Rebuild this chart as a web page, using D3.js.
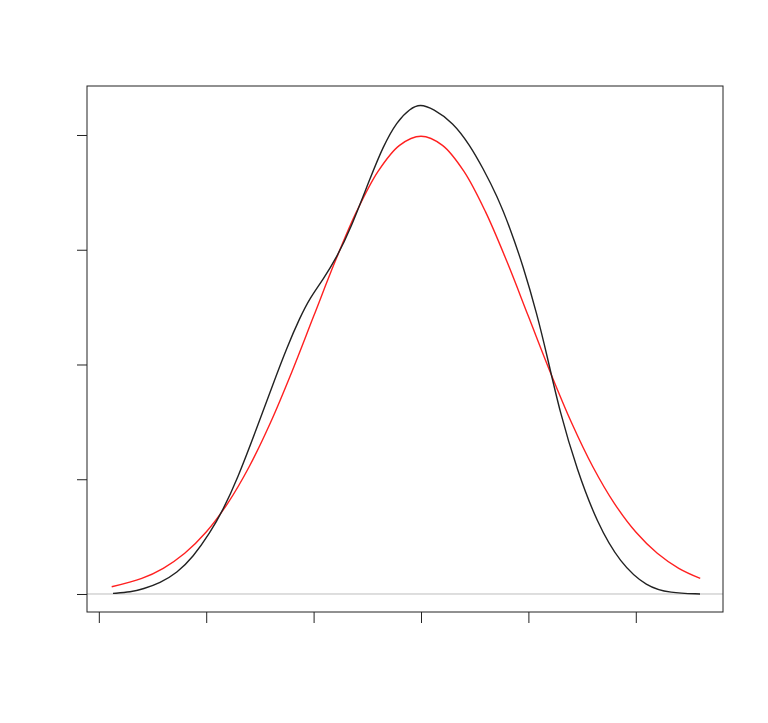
<!DOCTYPE html>
<html>
<head>
<meta charset="utf-8">
<script src="https://cdn.jsdelivr.net/npm/d3@7"></script>
<style>
  body { margin: 0; background: #fff; }
  svg { display: block; }
</style>
</head>
<body>
<div id="chart"></div>
<script>
// kernel density (black)
var densX = [-2.868, -2.700, -2.588, -2.430, -2.272, -2.123, -1.965, -1.844, -1.713, -1.527,
             -1.378, -1.248, -1.127, -1.034, -0.912, -0.782, -0.661, -0.475, -0.354, -0.223,
             -0.102, -0.009, 0.112, 0.298, 0.456, 0.577, 0.708, 0.829, 0.950, 1.080,
             1.173, 1.294, 1.453, 1.639, 1.853, 2.104, 2.318, 2.598];
var densY = [0.0005, 0.0017, 0.0044, 0.0096, 0.0183, 0.0322, 0.0531, 0.0732, 0.0993, 0.145,
             0.183, 0.215, 0.241, 0.258, 0.274, 0.294, 0.317, 0.362, 0.390, 0.412,
             0.423, 0.427, 0.423, 0.411, 0.391, 0.371, 0.347, 0.319, 0.286, 0.244,
             0.208, 0.158, 0.108, 0.062, 0.027, 0.006, 0.001, 0.000];

// normal curve (red)
var normX = [-2.88, -2.6, -2.4, -2.2, -2.0, -1.8, -1.6, -1.4, -1.2, -1.0, -0.8, -0.6, -0.4, -0.2,
             0, 0.2, 0.4, 0.6, 0.8, 1.0, 1.2, 1.4, 1.6, 1.8, 2.0, 2.2, 2.4, 2.6];
var normY = [0.0063, 0.0136, 0.0224, 0.0355, 0.0540, 0.0790, 0.1109, 0.1497, 0.1942, 0.2420,
             0.2897, 0.3332, 0.3683, 0.3910, 0.3989, 0.3910, 0.3683, 0.3332, 0.2897, 0.2420,
             0.1942, 0.1497, 0.1109, 0.0790, 0.0540, 0.0355, 0.0224, 0.0136];

var xTicks = [-3, -2, -1, 0, 1, 2];
var yTicks = [0, 0.1, 0.2, 0.3, 0.4];

var width = 768, height = 723;
var box = {left: 87, right: 723, top: 86, bottom: 612};

var svg = d3.select("#chart")
            .append("svg")
            .attr("width", width)
            .attr("height", height);

var x = d3.scaleLinear().domain([-3.110, 2.812]).range([box.left, box.right]);
var y = d3.scaleLinear().domain([-0.0157, 0.4427]).range([box.bottom, box.top]);

// zero line
svg.append("line")
   .attr("x1", box.left).attr("x2", box.right)
   .attr("y1", y(0)).attr("y2", y(0))
   .attr("stroke", "#bebebe")
   .attr("stroke-width", 1);

var line = d3.line()
             .x(d => x(d[0]))
             .y(d => y(d[1]));

svg.append("path")
   .datum(d3.zip(normX, normY))
   .attr("fill", "none")
   .attr("stroke", "#ff2020")
   .attr("stroke-width", 1.4)
   .attr("d", line.curve(d3.curveCatmullRom.alpha(0.5)));

svg.append("path")
   .datum(d3.zip(densX, densY))
   .attr("fill", "none")
   .attr("stroke", "#222")
   .attr("stroke-width", 1.4)
   .attr("d", line.curve(d3.curveBasis));

// frame
svg.append("rect")
   .attr("x", box.left).attr("y", box.top)
   .attr("width", box.right - box.left).attr("height", box.bottom - box.top)
   .attr("fill", "none")
   .attr("stroke", "#222")
   .attr("stroke-width", 1);

var xAxis = d3.axisBottom(x).tickValues(xTicks).tickSize(11).tickFormat("");
var yAxis = d3.axisLeft(y).tickValues(yTicks).tickSize(10).tickFormat("");

svg.append("g")
   .attr("transform", "translate(0," + box.bottom + ")")
   .call(xAxis)
   .call(g => g.select(".domain").remove())
   .selectAll("line").attr("stroke", "#222");

svg.append("g")
   .attr("transform", "translate(" + box.left + ",0)")
   .call(yAxis)
   .call(g => g.select(".domain").remove())
   .selectAll("line").attr("stroke", "#222");
</script>
</body>
</html>
